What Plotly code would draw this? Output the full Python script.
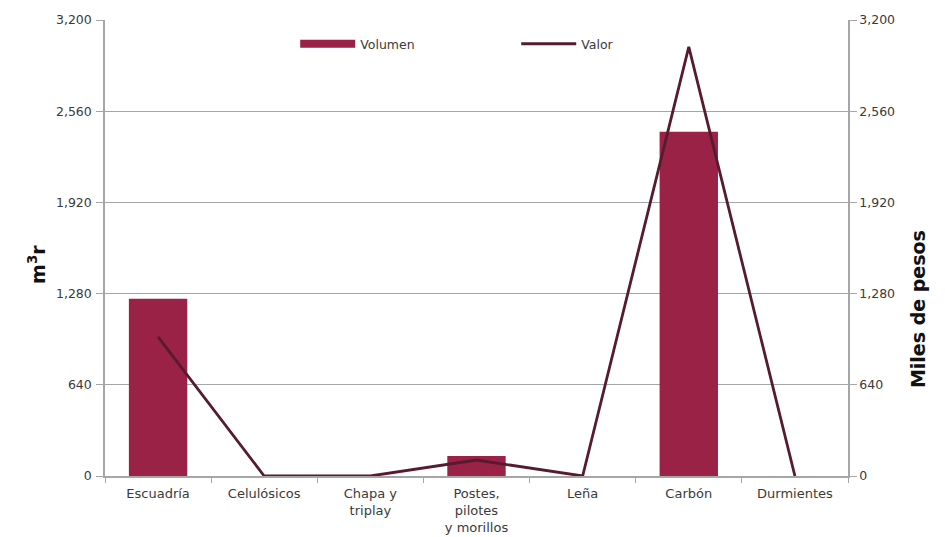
import plotly.graph_objects as go

# categories and values
categorias = ["Escuadría", "Celulósicos", "Chapa y<br>triplay", "Postes,<br>pilotes<br>y morillos",
              "Leña", "Carbón", "Durmientes"]
volumen = [1243, 0, 0, 140, 0, 2415, 0]       # m3r
valor = [976, 0, 0, 112, 0, 3011, 0]          # miles de pesos
ticks = [0, 640, 1280, 1920, 2560, 3200]
tick_text = ["0", "640", "1,280", "1,920", "2,560", "3,200"]

fuente = "DejaVu Sans"
gris = "#a6a6a6"
guinda = "#9b2247"
vino = "#561b2e"
texto = "#3a3a3a"

fig = go.Figure()

fig.add_trace(go.Bar(
    x=categorias, y=volumen, name="Volumen", showlegend=False,
    marker=dict(color=guinda, line=dict(width=0)),
    width=0.55,
))

fig.add_trace(go.Scatter(
    x=categorias, y=valor, name="Valor", yaxis="y2", showlegend=False,
    mode="lines", line=dict(color=vino, width=2.8),
))

# legend entries (wide strokes like the original)
fig.add_trace(go.Scatter(x=[None], y=[None], name="Volumen", mode="lines",
                         line=dict(color=guinda, width=8)))
fig.add_trace(go.Scatter(x=[None], y=[None], name="Valor", mode="lines",
                         line=dict(color=vino, width=3)))

fig.update_layout(
    width=945, height=537,
    margin=dict(l=97, r=105, t=12, b=69, autoexpand=False),
    paper_bgcolor="white", plot_bgcolor="white",
    font=dict(family=fuente, size=12, color=texto),
    showlegend=True,
    legend=dict(orientation="h", x=0.256, y=0.947, xanchor="left", yanchor="middle",
                font=dict(size=12.5, color=texto), itemwidth=55, entrywidth=151,
                bgcolor="rgba(0,0,0,0)"),
    xaxis=dict(
        type="category", showline=True, linecolor=gris, linewidth=1.5,
        ticks="outside", tickson="boundaries", ticklen=5, tickcolor=gris,
        showgrid=False, tickfont=dict(size=13, color=texto), automargin=False,
        ticklabelstandoff=5,
    ),
    yaxis=dict(
        range=[0, 3200], tickvals=ticks, ticktext=tick_text,
        showgrid=True, gridcolor=gris, gridwidth=1.3,
        showline=True, linecolor=gris, linewidth=1.5,
        ticks="outside", ticklen=7, tickcolor=gris,
        tickfont=dict(size=12.5, color=texto), zeroline=False, automargin=False,
        ticklabelstandoff=2,
    ),
    yaxis2=dict(
        range=[0, 3200], tickvals=ticks, ticktext=tick_text,
        overlaying="y", side="right", showgrid=False,
        showline=True, linecolor=gris, linewidth=1.5,
        ticks="outside", ticklen=7, tickcolor=gris,
        tickfont=dict(size=12.5, color=texto), zeroline=False, automargin=False,
    ),
    annotations=[
        dict(text="<b>m<sup>3</sup>r</b>", xref="paper", yref="paper", x=-0.1104, y=0.465,
             textangle=-90, showarrow=False, font=dict(size=19, color="#111111")),
        dict(text="<b>Miles de pesos</b>", xref="paper", yref="paper", x=1.1117, y=0.366,
             textangle=-90, showarrow=False, font=dict(size=19, color="#111111")),
    ],
)

fig.write_html("out.html")
